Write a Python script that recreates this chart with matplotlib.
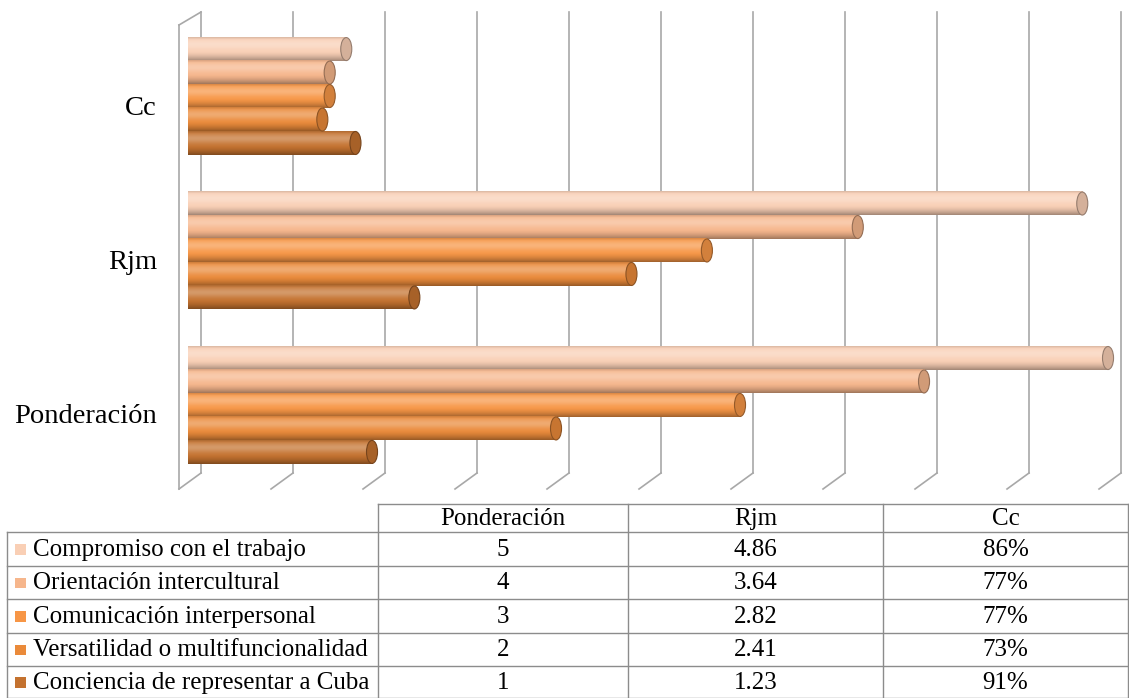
import numpy as np
import matplotlib
matplotlib.use("Agg")
import matplotlib.pyplot as plt
from matplotlib.patches import Ellipse, Rectangle
from matplotlib import transforms
from matplotlib.colors import to_rgb

plt.rcParams['font.family'] = ['Liberation Serif', 'DejaVu Serif']

categories = ["Ponderación", "Rjm", "Cc"]
series = ["Compromiso con el trabajo",
          "Orientación intercultural",
          "Comunicación interpersonal",
          "Versatilidad o multifuncionalidad",
          "Conciencia de representar a Cuba"]
ponderacion = [5, 4, 3, 2, 1]
rjm = [4.86, 3.64, 2.82, 2.41, 1.23]
cc = [0.86, 0.77, 0.77, 0.73, 0.91]
colors = ["#F9CFB5", "#F6B68C", "#F79646", "#EA8A3A", "#C4722F"]

W, H = 1129, 698
fig = plt.figure(figsize=(W / 100, H / 100), dpi=100)


def px_axes(x0, y0, x1, y1):
    # pixel box (top-left origin) -> figure fraction
    return [x0 / W, 1 - y1 / H, (x1 - x0) / W, (y1 - y0) / H]


ax = fig.add_axes(px_axes(179, 12, 1129, 489))
ax.set_xlim(-0.049, 5.114)
ax.set_ylim(-0.544, 2.544)
for s in ax.spines.values():
    s.set_visible(False)
ax.set_xticks([])

# grid lines on the back wall with a slanted foot to the front
grid_col = "#A8A8A8"
back = transforms.ScaledTranslation(0.13, 0, fig.dpi_scale_trans)
blend = transforms.blended_transform_factory(ax.transData, ax.transAxes)
y_top, y_back, y_front = 1.0, (489 - 473) / 477, 0.0
for v in np.arange(0, 5.01, 0.5):
    ax.plot([v, v], [y_back, y_top], transform=blend + back,
            color=grid_col, lw=1.2, zorder=0, clip_on=False)
    ax.plot([v + 0.13 / 1.84, v - 0.09 / 1.84], [y_back, y_front],
            transform=blend, color=grid_col, lw=1.2, zorder=0, clip_on=False)
# left wall
ax.plot([-0.049, -0.049], [0.0, (489 - 25) / 477], transform=blend,
        color=grid_col, lw=1.2, zorder=0, clip_on=False)
ax.plot([-0.049, 0.13 / 1.84], [(489 - 25) / 477, 1.0], transform=blend,
        color=grid_col, lw=1.2, zorder=0, clip_on=False)

# cylinder shading profile (top -> bottom)
t = np.linspace(0, 1, 60)
light = 0.28 * np.exp(-((t - 0.3) / 0.22) ** 2)
dark = 0.35 * np.clip((t - 0.6) / 0.4, 0, 1) ** 1.6 + 0.12 * np.clip((0.1 - t) / 0.1, 0, 1)

h = 0.152
values = [ponderacion, rjm, cc]
for ci, vals in enumerate(values):
    for i, v in enumerate(vals):
        yc = ci + (2 - i) * h
        base = np.array(to_rgb(colors[i]))
        grad = base[None, :] * (1 - light[:, None]) + light[:, None]
        grad = grad * (1 - dark[:, None])
        ax.imshow(grad[:, None, :], extent=[0, v, yc - h / 2, yc + h / 2],
                  aspect='auto', origin='upper', zorder=2, interpolation='bilinear')
        cap = Ellipse((v, yc), 0.06, h * 0.98, facecolor=base * 0.85,
                      edgecolor=base * 0.6, lw=0.8, zorder=3)
        ax.add_patch(cap)
ax.set_xlim(-0.049, 5.114)
ax.set_ylim(-0.544, 2.544)

ax.set_yticks(range(len(categories)))
ax.set_yticklabels(categories, fontsize=20.5)
ax.tick_params(axis='y', length=0, pad=16)
shift = transforms.ScaledTranslation(0, -0.09, fig.dpi_scale_trans)
for lab in ax.get_yticklabels():
    lab.set_transform(lab.get_transform() + shift)

# data table
tax = fig.add_axes([0, 0, 1, 1])
tax.set_xlim(0, W)
tax.set_ylim(H, 0)
tax.axis('off')
line_col = "#8C8C8C"
cols = [7, 378, 628, 883, 1128]
rows = [504, 532, 565.5, 599, 632.5, 666, 697.5]
tax.plot([cols[1], cols[-1]], [rows[0], rows[0]], color=line_col, lw=1)
for y in rows[1:]:
    tax.plot([cols[0], cols[-1]], [y, y], color=line_col, lw=1)
tax.plot([cols[0], cols[0]], [rows[1], rows[-1]], color=line_col, lw=1)
for x in cols[1:]:
    tax.plot([x, x], [rows[0], rows[-1]], color=line_col, lw=1)

fs = 18
for j, name in enumerate(categories):
    tax.text((cols[j + 1] + cols[j + 2]) / 2, (rows[0] + rows[1]) / 2 + 1, name,
             ha='center', va='center', fontsize=fs)
for i, name in enumerate(series):
    yc = (rows[i + 1] + rows[i + 2]) / 2 + 1
    tax.add_patch(Rectangle((15, yc - 5.5), 10.5, 10.5, facecolor=colors[i], edgecolor='none'))
    tax.text(33, yc, name, ha='left', va='center', fontsize=fs)
    cells = [f"{ponderacion[i]}", f"{rjm[i]:.2f}", f"{cc[i]:.0%}"]
    for j, s in enumerate(cells):
        tax.text((cols[j + 1] + cols[j + 2]) / 2, yc, s, ha='center', va='center', fontsize=fs)

fig.savefig("out.png", dpi=100)
